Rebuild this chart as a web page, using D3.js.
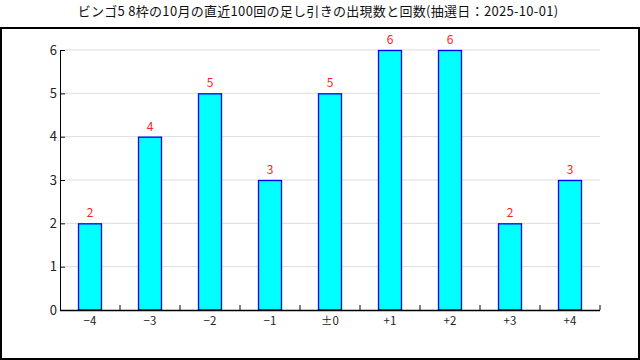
<!DOCTYPE html>
<html>
<head>
<meta charset="utf-8">
<script src="https://cdn.jsdelivr.net/npm/d3@7"></script>
<style>
  body { margin: 0; background: #fff; }
  text { font-family: "Noto Sans CJK JP", "DejaVu Sans", sans-serif; }
</style>
</head>
<body>
<div id="chart"></div>
<script>
const title = "ビンゴ5 8枠の10月の直近100回の足し引きの出現数と回数(抽選日：2025-10-01)";
const categories = ["−4", "−3", "−2", "−1", "±0", "+1", "+2", "+3", "+4"];
const counts = [2, 4, 5, 3, 5, 6, 6, 2, 3];
const yTicks = [0, 1, 2, 3, 4, 5, 6];

var W = 640, H = 360;
var margin = { top: 50, right: 40, bottom: 50, left: 60 },
    width = W - margin.left - margin.right,
    height = H - margin.top - margin.bottom;

var root = d3.select("#chart").append("svg")
    .attr("width", W)
    .attr("height", H);

// frame
root.append("rect")
    .attr("x", 1).attr("y", 28)
    .attr("width", W - 2).attr("height", H - 29)
    .attr("fill", "none")
    .attr("stroke", "#000")
    .attr("stroke-width", 2);

root.append("text")
    .attr("x", 318).attr("y", 16)
    .attr("text-anchor", "middle")
    .attr("font-size", 13)
    .attr("letter-spacing", 0.3)
    .attr("fill", "#111")
    .text(title);

var svg = root.append("g")
    .attr("transform", "translate(" + margin.left + "," + margin.top + ")");

var x = d3.scaleBand()
    .domain(categories)
    .range([0, width])
    .paddingInner(0.6)
    .paddingOuter(0.3);

var y = d3.scaleLinear()
    .domain([0, 6])
    .range([height, 0]);

// grid
svg.append("g")
    .selectAll("line")
    .data(yTicks.filter(function (d) { return d > 0; }))
    .enter().append("line")
    .attr("x1", 5).attr("x2", width)
    .attr("y1", function (d) { return y(d); })
    .attr("y2", function (d) { return y(d); })
    .attr("stroke", "#dcdcdc");

// bars
svg.append("g")
    .selectAll("rect")
    .data(counts)
    .enter().append("rect")
    .attr("x", function (d, i) { return x(categories[i]) + 0.5; })
    .attr("y", function (d) { return y(d) + 0.5; })
    .attr("width", x.bandwidth() - 1)
    .attr("height", function (d) { return y(0) - y(d) - 0.5; })
    .attr("fill", "#00ffff")
    .attr("stroke", "#0000ff")
    .attr("stroke-width", 1.3);

// value labels
svg.append("g")
    .selectAll("text")
    .data(counts)
    .enter().append("text")
    .attr("x", function (d, i) { return x(categories[i]) + x.bandwidth() / 2; })
    .attr("y", function (d) { return y(d) - 6; })
    .attr("text-anchor", "middle")
    .attr("font-size", 12)
    .attr("fill", "#ff2020")
    .text(function (d) { return d; });

// y axis
var yAxis = svg.append("g")
    .call(d3.axisRight(y).tickValues(yTicks).tickSize(5).tickFormat(d3.format("d")));
yAxis.select(".domain").attr("stroke", "#000").attr("d", "M0.5," + height + "V0");
yAxis.selectAll("text")
    .attr("x", -3)
    .attr("text-anchor", "end")
    .attr("font-size", 13)
    .attr("fill", "#222");

// x axis with ticks on band boundaries
var xAxisG = svg.append("g")
    .attr("transform", "translate(0," + height + ")");
xAxisG.append("line")
    .attr("x1", 0).attr("x2", width)
    .attr("y1", 0.5).attr("y2", 0.5)
    .attr("stroke", "#000").attr("stroke-width", 1.5);
xAxisG.selectAll(".tk")
    .data(categories)
    .enter().append("line")
    .attr("class", "tk")
    .attr("x1", function (d) { return x(d) + x.bandwidth() / 2 + x.step() / 2; })
    .attr("x2", function (d) { return x(d) + x.bandwidth() / 2 + x.step() / 2; })
    .attr("y1", 0).attr("y2", -5)
    .attr("stroke", "#000");
xAxisG.selectAll(".lb")
    .data(categories)
    .enter().append("text")
    .attr("class", "lb")
    .attr("x", function (d) { return x(d) + x.bandwidth() / 2; })
    .attr("y", 15)
    .attr("text-anchor", "middle")
    .attr("font-size", 11.5)
    .attr("fill", "#222")
    .text(function (d) { return d; });
</script>
</body>
</html>
